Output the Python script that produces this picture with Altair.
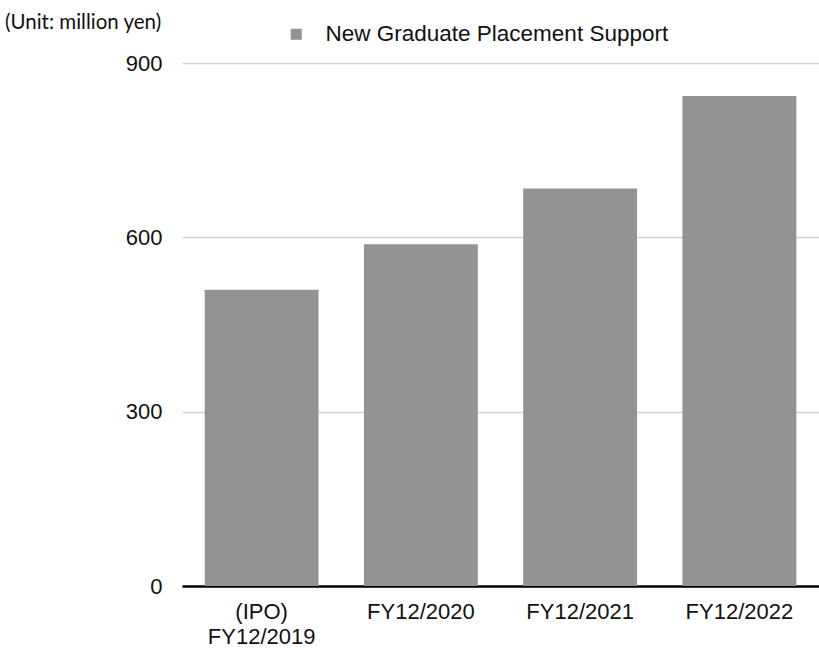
import altair as alt
import pandas as pd

# Fiscal-year categories (first one carries a two-line label)
years = ["(IPO)\nFY12/2019", "FY12/2020", "FY12/2021", "FY12/2022"]
# Net sales of the segment, million yen
sales = [510, 588, 684, 843]
series_name = "New Graduate Placement Support"
y_ticks = [0, 300, 600, 900]

df = pd.DataFrame({"year": years, "sales": sales, "series": [series_name] * len(years)})

BAR_GRAY = "#939393"
TEXT = "#111111"
FONT = "Liberation Sans"

chart = (
    alt.Chart(df)
    .mark_bar(color=BAR_GRAY)
    .encode(
        x=alt.X(
            "year:N",
            sort=years,
            title=None,
            scale=alt.Scale(paddingInner=0.285, paddingOuter=0.1425),
            axis=alt.Axis(
                labelAngle=0,
                labelExpr="split(datum.label, '\\n')",
                labelFont=FONT,
                labelFontSize=22,
                labelColor=TEXT,
                labelLineHeight=25,
                labelPadding=15,
                ticks=False,
                domainColor="#000000",
                domainWidth=2.5,
                grid=False,
            ),
        ),
        y=alt.Y(
            "sales:Q",
            title=None,
            scale=alt.Scale(domain=[0, 900], nice=False),
            axis=alt.Axis(
                values=y_ticks,
                labelFont=FONT,
                labelFontSize=22,
                labelColor=TEXT,
                labelPadding=20,
                ticks=False,
                domain=False,
                gridColor="#d4d4d4",
                gridWidth=1.5,
            ),
        ),
        color=alt.Color(
            "series:N",
            scale=alt.Scale(range=[BAR_GRAY]),
            legend=alt.Legend(
                title=None,
                orient="none",
                legendX=103,
                legendY=-40,
                symbolType="square",
                symbolSize=121,
                symbolStrokeWidth=0,
                labelFont=FONT,
                labelFontSize=22.5,
                labelColor=TEXT,
                labelOffset=18,
                labelLimit=0,
                padding=0,
            ),
        ),
    )
    .properties(
        width=637,
        height=523,
        title=alt.TitleParams(
            "(Unit: million yen)",
            anchor="start",
            frame="group",
            dx=-177,
            offset=0,
            dy=10,
            font="Lato",
            fontSize=20.5,
            fontWeight="normal",
            color=TEXT,
        ),
        autosize=alt.AutoSizeParams(type="none"),
        padding={"left": 182, "top": 63, "right": 0, "bottom": 64},
    )
    .configure_view(stroke=None)
)

chart.save("out.html", embed_options={"renderer": "svg", "actions": False})
